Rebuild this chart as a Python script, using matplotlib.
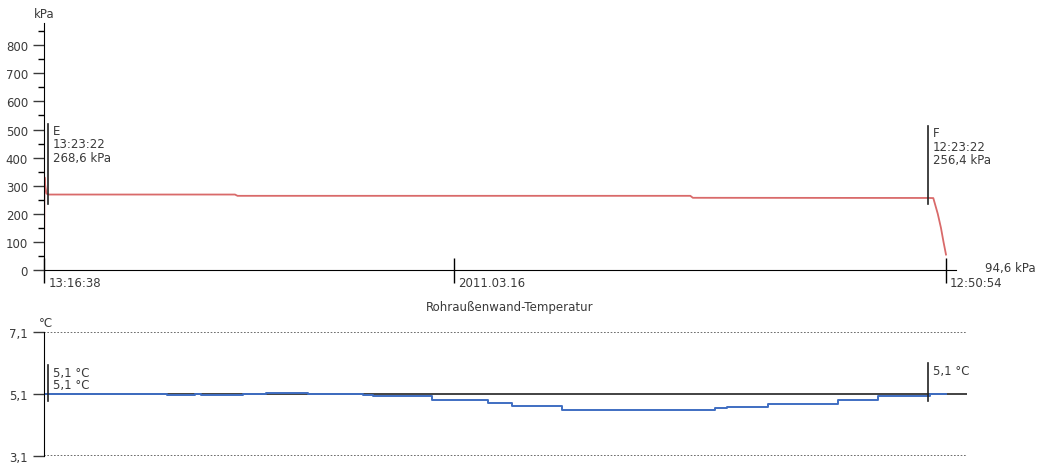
import pandas as pd
import matplotlib
matplotlib.use('Agg')
import matplotlib.pyplot as plt
import matplotlib.dates as mdates
import matplotlib.transforms as mtransforms

plt.rcParams['font.family'] = ['DejaVu Sans']

# 🔹 Daten
day1 = '2011-03-15 '
day2 = '2011-03-16 '

pressure_times = [day1 + '13:16:38', day1 + '13:17:20', day1 + '13:18:30', day1 + '13:20:30',
                  day1 + '13:23:22', day1 + '18:16:00', day1 + '18:20:00', day2 + '06:10:00',
                  day2 + '06:14:00', day2 + '12:23:22', day2 + '12:31:00', day2 + '12:33:00',
                  day2 + '12:38:00', day2 + '12:43:00', day2 + '12:47:00', day2 + '12:50:54']
pressure_kpa = [0, 330, 300, 272, 268.6, 268.6, 264, 264,
                257, 256.4, 256, 240, 200, 150, 100, 55]

temp_times = [day1 + '13:16:38', day1 + '16:29:00', day1 + '17:14:00', day1 + '17:22:00',
              day1 + '18:29:00', day1 + '19:04:00', day1 + '20:11:00', day1 + '21:37:00',
              day1 + '21:53:00', day1 + '23:25:00', day2 + '00:53:00', day2 + '01:31:00',
              day2 + '02:49:00', day2 + '06:49:00', day2 + '07:08:00', day2 + '08:12:00',
              day2 + '10:02:00', day2 + '11:05:00', day2 + '12:26:00', day2 + '12:50:54']
temp_c = [5.1, 5.06, 5.1, 5.06, 5.1, 5.14, 5.1, 5.07,
          5.04, 4.9, 4.81, 4.72, 4.58, 4.65, 4.69, 4.78,
          4.92, 5.03, 5.1, 5.1]

# Cursor E / F
cursor_names = ['E', 'F']
cursor_times = [day1 + '13:23:22', day2 + '12:23:22']
cursor_kpa = ['268,6 kPa', '256,4 kPa']
cursor_p_span = [(235, 520), (235, 512)]
cursor_t_span = [(4.88, 6.05), (4.88, 6.1)]
cursor_temp_label = ['5,1 °C', '5,1 °C']

x_start = pd.Timestamp(day1 + '13:16:38')
x_mid = pd.Timestamp(day2 + '00:00:00')
x_end = pd.Timestamp(day2 + '12:50:54')
x_right = pd.Timestamp(day2 + '13:24:00')
x_axis_end = pd.Timestamp(day2 + '13:06:00')
end_label = '94,6 kPa'

p_ticks = [0, 100, 200, 300, 400, 500, 600, 700, 800]
t_ticks = [3.1, 5.1, 7.1]

pt = pd.to_datetime(pressure_times)
tt = pd.to_datetime(temp_times)
ct = pd.to_datetime(cursor_times)
n = mdates.date2num

txt = '#3a3a3a'
fs = 8.5
fig = plt.figure(figsize=(10.39, 4.64), dpi=100)

# 🔹 Druck
ax1 = fig.add_axes([0.0424, 0.4159, 0.8884, 0.533])
ax1.plot(pt, pressure_kpa, color='#d96a6a', lw=1.3)
ax1.set_xlim(x_start, x_right)
ax1.set_ylim(0, 880)
for s in ['top', 'right']:
    ax1.spines[s].set_visible(False)
ax1.spines['bottom'].set_bounds(n(x_start), n(x_axis_end))
ax1.set_yticks(p_ticks)
ax1.set_yticks(range(50, 880, 100), minor=True)
ax1.tick_params(axis='y', length=8, width=1, labelsize=fs, colors=txt)
ax1.tick_params(axis='y', which='minor', length=4, width=1)
ax1.set_xticks([x_start, x_mid, x_end])
ax1.set_xticklabels([])
ax1.tick_params(axis='x', direction='inout', length=18, width=1)
trans1 = mtransforms.blended_transform_factory(ax1.transData, ax1.transAxes)
for x, lab in zip([x_start, x_mid, x_end], ['13:16:38', '2011.03.16', '12:50:54']):
    ax1.annotate(lab, (n(x), 0), xycoords=trans1, xytext=(3, -4), textcoords='offset points',
                 ha='left', va='top', fontsize=fs, color=txt)
ax1.annotate(end_label, (n(x_end), 0), xycoords=trans1, xytext=(28, 1.5), textcoords='offset points',
             ha='left', va='center', fontsize=fs, color=txt)
ax1.text(0, 1.01, 'kPa', transform=ax1.transAxes, ha='center', va='bottom', fontsize=fs, color=txt)

for name, t, kpa, span in zip(cursor_names, ct, cursor_kpa, cursor_p_span):
    ax1.plot([t, t], span, color='#222222', lw=1.2)
    ax1.annotate(name + '\n' + t.strftime('%H:%M:%S') + '\n' + kpa, (n(t), span[1]),
                 xytext=(3, 0), textcoords='offset points', ha='left', va='top',
                 fontsize=fs, color=txt, linespacing=1.05)

fig.text(510 / 1039, 1 - 308 / 464, 'Rohraußenwand-Temperatur', ha='center', va='center',
         fontsize=fs, color=txt)

# 🔹 Temperatur
ax2 = fig.add_axes([0.0424, 0.0151, 0.8884, 0.2673])
ax2.axhline(t_ticks[0], color='#555555', lw=1.2, ls=(0, (1, 1)))
ax2.axhline(t_ticks[2], color='#555555', lw=1.2, ls=(0, (1, 1)))
ax2.axhline(t_ticks[1], color='#222222', lw=1.2, zorder=1)
ax2.plot(tt, temp_c, color='#3f6ec2', lw=1.4, drawstyle='steps-post', zorder=2)
ax2.set_xlim(x_start, x_right)
ax2.set_ylim(t_ticks[0], t_ticks[2])
for s in ['top', 'right', 'bottom']:
    ax2.spines[s].set_visible(False)
ax2.set_xticks([])
ax2.set_yticks(t_ticks)
ax2.set_yticklabels([f'{v:.1f}'.replace('.', ',') for v in t_ticks])
ax2.tick_params(axis='y', length=8, width=1, labelsize=fs, colors=txt)
ax2.text(0.002, 1.02, '°C', transform=ax2.transAxes, ha='center', va='bottom', fontsize=fs, color=txt)

for t, span, lab in zip(ct, cursor_t_span, cursor_temp_label):
    ax2.plot([t, t], span, color='#222222', lw=1.2, zorder=3)
    ax2.annotate(lab, (n(t), span[1]), xytext=(3, -1), textcoords='offset points',
                 ha='left', va='top', fontsize=fs, color=txt)
ax2.annotate(cursor_temp_label[0], (n(ct[0]), 5.6), xytext=(3, 0), textcoords='offset points',
             ha='left', va='top', fontsize=fs, color=txt)

plt.savefig('out.png', dpi=100)
